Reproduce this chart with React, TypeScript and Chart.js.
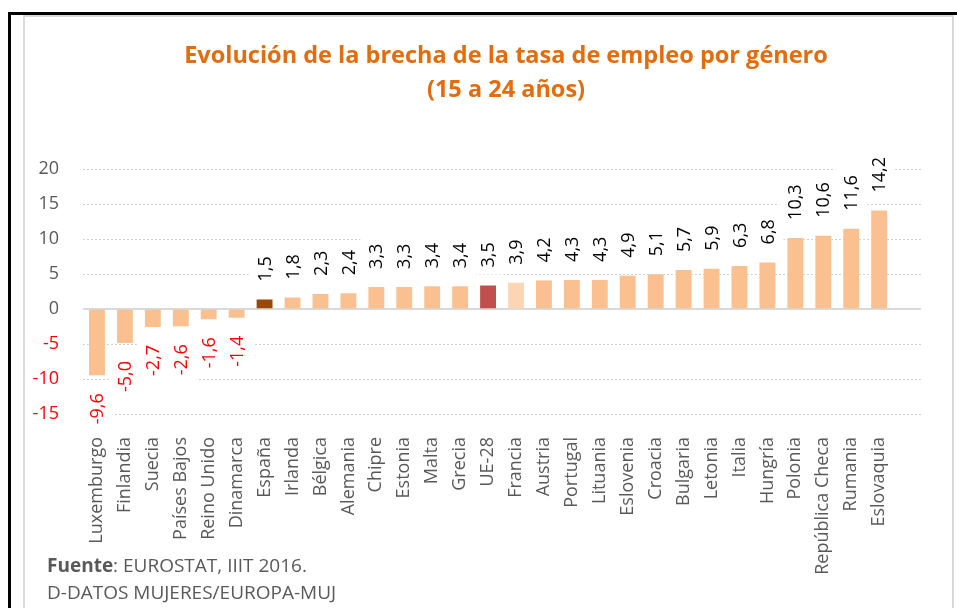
import React, { useEffect, useRef } from "react";
import { Chart, registerables } from "chart.js";

Chart.register(...registerables);

const categories: string[] = [
  "Luxemburgo", "Finlandia", "Suecia", "Países Bajos", "Reino Unido", "Dinamarca",
  "España", "Irlanda", "Bélgica", "Alemania", "Chipre", "Estonia", "Malta", "Grecia",
  "UE-28", "Francia", "Austria", "Portugal", "Lituania", "Eslovenia", "Croacia",
  "Bulgaria", "Letonia", "Italia", "Hungría", "Polonia", "República Checa", "Rumania",
  "Eslovaquia", "",
];

const values: (number | null)[] = [
  -9.6, -5.0, -2.7, -2.6, -1.6, -1.4,
  1.5, 1.8, 2.3, 2.4, 3.3, 3.3, 3.4, 3.4,
  3.5, 3.9, 4.2, 4.3, 4.3, 4.9, 5.1,
  5.7, 5.9, 6.3, 6.8, 10.3, 10.6, 11.6,
  14.2, null,
];

const yTicks: number[] = [-15, -10, -5, 0, 5, 10, 15, 20];

const BASE = "#FAC090";
const SPAIN = "#984807";
const EU = "#C0504D";
const FRANCE = "#FCD5B5";

const barColors = categories.map((c) =>
  c === "España" ? SPAIN : c === "UE-28" ? EU : c === "Francia" ? FRANCE : BASE
);

const FONT = '"Open Sans", "Noto Sans", sans-serif';
const fmt = (v: number) => v.toFixed(1).replace(".", ",");

function drawLabels(chart: any, boxes: boolean) {
  const ctx = chart.ctx;
  const meta = chart.getDatasetMeta(0);
  ctx.save();
  ctx.font = `18px ${FONT}`;
  const gap = 17;
  const pad = 7;
  const half = 9;
  meta.data.forEach((el: any, i: number) => {
    const v = values[i];
    if (v == null) return;
    const text = fmt(v);
    const w = ctx.measureText(text).width;
    const { x, y } = el.getProps(["x", "y"], true);
    ctx.save();
    let start: number;
    if (v >= 0) {
      ctx.translate(x, y - gap);
      start = 0;
    } else {
      ctx.translate(x, y + gap);
      start = -w;
    }
    ctx.rotate(-Math.PI / 2);
    if (boxes) {
      ctx.fillStyle = "#ffffff";
      ctx.fillRect(start - pad, -half - pad, w + 2 * pad, 2 * (half + pad));
    } else {
      ctx.fillStyle = v < 0 ? "#FF0000" : "#000000";
      ctx.textAlign = "left";
      ctx.textBaseline = "middle";
      ctx.fillText(text, start, 1);
    }
    ctx.restore();
  });
  ctx.restore();
}

const labelPlugin = {
  id: "valueLabels",
  beforeDatasetsDraw(chart: any) {
    drawLabels(chart, true);
    const { ctx, chartArea } = chart;
    const y0 = Math.round(chart.scales.y.getPixelForValue(0));
    ctx.save();
    ctx.strokeStyle = "#d9d9d9";
    ctx.lineWidth = 2;
    ctx.beginPath();
    ctx.moveTo(chartArea.left, y0);
    ctx.lineTo(chartArea.right, y0);
    ctx.stroke();
    ctx.restore();
  },
  afterDatasetsDraw(chart: any) {
    drawLabels(chart, false);
  },
};

export default function App() {
  const ref = useRef<HTMLCanvasElement | null>(null);

  useEffect(() => {
    if (!ref.current) return;
    const chart = new Chart(ref.current, {
      type: "bar",
      data: {
        labels: categories,
        datasets: [
          {
            data: values as any,
            backgroundColor: barColors,
            borderColor: "rgba(255,255,255,0.35)",
            borderWidth: 1,
            categoryPercentage: 1,
            barPercentage: 0.64,
          },
        ],
      },
      options: {
        animation: false,
        responsive: false,
        maintainAspectRatio: false,
        layout: { padding: { top: 152, right: 19, bottom: 0, left: 0 } },
        plugins: {
          legend: { display: false },
          title: { display: false },
          tooltip: { enabled: false },
        },
        scales: {
          x: {
            grid: { display: false, drawTicks: false },
            border: { display: false },
            ticks: {
              autoSkip: false,
              minRotation: 90,
              maxRotation: 90,
              padding: 23,
              color: "#595959",
              font: { family: FONT, size: 18 },
            },
            afterFit: (s: any) => {
              s.height = 194;
            },
          },
          y: {
            min: -15,
            max: 20,
            afterBuildTicks: (s: any) => {
              s.ticks = yTicks.map((v) => ({ value: v }));
            },
            grid: {
              drawTicks: false,
              color: (c: any) => (c.tick && c.tick.value === 0 ? "rgba(0,0,0,0)" : "#d0d0d0"),
              lineWidth: 1,
            },
            border: { display: false, dash: [2, 2] },
            ticks: {
              padding: 24,
              color: (c: any) => (c.tick && c.tick.value < 0 ? "#FF0000" : "#595959"),
              font: { family: FONT, size: 18 },
              callback: (v: any) => String(v),
            },
            afterFit: (s: any) => {
              s.width = 58;
            },
          },
        },
      },
      plugins: [labelPlugin],
    });
    return () => chart.destroy();
  }, []);

  return (
    <div
      style={{
        position: "absolute",
        left: 0,
        top: 0,
        width: 957,
        height: 608,
        overflow: "hidden",
        background: "#fff",
        fontFamily: FONT,
      }}
    >
      <div
        style={{
          position: "absolute",
          left: 8,
          top: 12,
          width: 2000,
          height: 2000,
          borderLeft: "3px solid #000",
          borderTop: "3px solid #000",
        }}
      />
      <div
        style={{
          position: "absolute",
          left: 23,
          top: 15,
          width: 931,
          height: 700,
          boxSizing: "border-box",
          border: "2px solid #d9d9d9",
        }}
      />
      <canvas
        ref={ref}
        width={927}
        height={591}
        style={{ position: "absolute", left: 25, top: 17, width: 927, height: 591 }}
      />
      <div
        style={{
          position: "absolute",
          left: 0,
          top: 37,
          width: 1012,
          textAlign: "center",
          color: "#E46C0A",
          fontWeight: 700,
          fontSize: 23.5,
          lineHeight: "34px",
          whiteSpace: "nowrap",
        }}
      >
        Evolución de la brecha de la tasa de empleo por género
        <br />
        (15 a 24 años)
      </div>
      <div
        style={{
          position: "absolute",
          left: 47,
          top: 552,
          color: "#595959",
          fontSize: 19,
          lineHeight: "27px",
          whiteSpace: "nowrap",
        }}
      >
        <span style={{ fontWeight: 700 }}>Fuente</span>: EUROSTAT, IIIT 2016.
        <br />
        D-DATOS MUJERES/EUROPA-MUJ
      </div>
    </div>
  );
}
